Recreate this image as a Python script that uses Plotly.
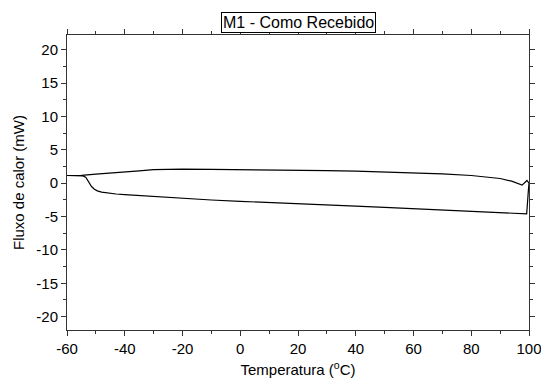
import plotly.graph_objects as go

# Heating branch (lower curve), then jump at 100 °C
temp_lower = [-60, -57, -54.5, -53.5, -52.5, -51.5, -50.5, -49.5, -48, -46, -43, -40,
              -30, -20, -10, 0, 10, 20, 30, 40, 50, 60, 70, 80, 90, 95, 99.2, 99.8, 100]
flux_lower = [1.15, 1.13, 1.08, 0.9, 0.2, -0.5, -0.9, -1.15, -1.35, -1.5, -1.62, -1.72,
              -2.0, -2.3, -2.52, -2.72, -2.93, -3.13, -3.3, -3.45, -3.62, -3.8, -4.0,
              -4.2, -4.4, -4.5, -4.6, -1.0, 0.0]

# Cooling branch (upper curve), from 100 °C back to -60 °C
temp_upper = [100, 99.3, 97.6, 94, 90, 85, 80, 70, 60, 50, 40, 30, 20, 10, 0, -10,
              -20, -25, -30, -35, -40, -45, -50, -55, -60]
flux_upper = [0.0, 0.4, -0.3, 0.3, 0.7, 0.95, 1.15, 1.4, 1.55, 1.68, 1.8, 1.88, 1.95,
              2.0, 2.05, 2.08, 2.1, 2.08, 2.02, 1.85, 1.65, 1.5, 1.35, 1.18, 1.15]

x_ticks = [-60, -40, -20, 0, 20, 40, 60, 80, 100]
y_ticks = [-20, -15, -10, -5, 0, 5, 10, 15, 20]

FONT = "Liberation Sans, Arial, sans-serif"

fig = go.Figure()
fig.add_trace(go.Scatter(x=temp_lower, y=flux_lower, mode="lines",
                         line=dict(color="black", width=1.2), showlegend=False))
fig.add_trace(go.Scatter(x=temp_upper, y=flux_upper, mode="lines",
                         line=dict(color="black", width=1.2), showlegend=False))

axis_common = dict(
    showgrid=False, zeroline=False, showline=True, linecolor="#333", linewidth=1,
    mirror="allticks", ticks="outside", ticklen=5, tickwidth=1, tickcolor="#333",
    tickfont=dict(family=FONT, size=15, color="black"), automargin=False,
    ticklabeloverflow="allow",
)

fig.update_xaxes(range=[-60, 100], tickvals=x_ticks, ticktext=[str(v) for v in x_ticks],
                 minor=dict(dtick=10, ticks="outside", ticklen=3, tickcolor="#333", showgrid=False),
                 title=dict(text="Temperatura (<sup>o</sup>C)", standoff=8,
                            font=dict(family=FONT, size=15, color="black")),
                 **axis_common)
fig.update_yaxes(range=[-22, 22.2], tickvals=y_ticks, ticktext=[str(v) for v in y_ticks],
                 minor=dict(dtick=2.5, ticks="outside", ticklen=3, tickcolor="#333", showgrid=False),
                 title=dict(text="Fluxo de calor (mW)", standoff=8,
                            font=dict(family=FONT, size=15, color="black")),
                 **axis_common)

fig.add_annotation(text="M1 - Como Recebido", xref="paper", yref="paper", x=0.5, y=1.0,
                   yshift=2, xanchor="center", yanchor="bottom", showarrow=False,
                   font=dict(family=FONT, size=16, color="black"),
                   bordercolor="black", borderwidth=1, borderpad=1, bgcolor="white")

fig.update_layout(width=541, height=381, margin=dict(l=67, r=12, t=35, b=51),
                  plot_bgcolor="white", paper_bgcolor="white")

fig.write_html("out.html")
